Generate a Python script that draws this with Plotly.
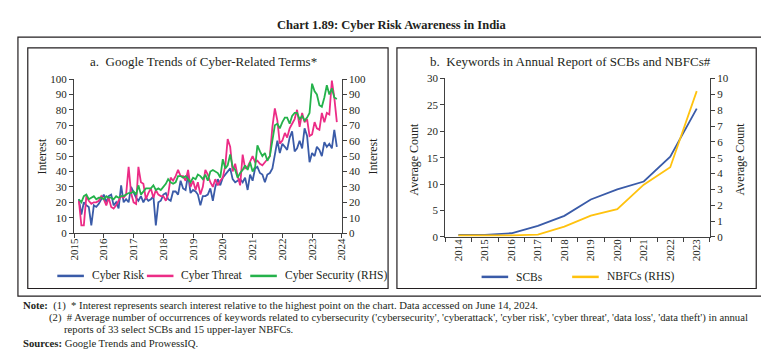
import pandas as pd
import plotly.graph_objects as go

# ---------------- Data ----------------
months = pd.date_range("2015-03-01", "2023-11-01", freq="MS")

cyber_risk = [
    22, 12, 20, 18, 17, 5, 18, 17, 19, 22,
    25, 20, 24, 25, 18, 20, 16, 31, 20, 22, 20, 30,
    26, 23, 21, 24, 20, 23, 21, 22, 24, 5, 20, 21,
    25, 26, 22, 21, 27, 27, 25, 34, 29, 28, 38, 26,
    28, 27, 25, 18, 24, 24, 25, 29, 21, 30, 35, 31,
    36, 38, 40, 42, 35, 33, 34, 35, 33, 36, 28, 38,
    34, 42, 43, 39, 38, 33, 38, 39, 42, 50, 60, 52,
    58, 56, 54, 62, 66, 53, 55, 60, 55, 68, 63, 46,
    52, 50, 56, 54, 50, 59, 56, 58, 55, 67, 56,
]
cyber_threat = [
    21, 5, 5, 24, 21, 19, 20, 20, 21, 24,
    22, 18, 23, 17, 16, 18, 21, 24, 23, 25, 43, 26,
    20, 19, 43, 33, 32, 22, 26, 29, 23, 28, 25, 24,
    24, 21, 25, 36, 34, 37, 41, 37, 37, 34, 41, 30,
    34, 28, 33, 25, 30, 41, 38, 33, 30, 35, 31, 34,
    36, 44, 61, 56, 40, 45, 37, 31, 51, 42, 43, 46,
    50, 46, 47, 45, 44, 46, 48, 50, 69, 81, 73, 58,
    60, 65, 62, 68, 71, 74, 80, 69, 78, 72, 74, 63,
    64, 72, 68, 67, 78, 72, 78, 77, 99, 88, 72,
]
cyber_security = [
    22, 20, 24, 25, 22, 23, 24, 22, 23, 23,
    22, 24, 23, 23, 22, 24, 23, 24, 24, 25, 26, 26,
    27, 25, 31, 25, 27, 29, 29, 29, 31, 28, 29, 28,
    30, 32, 35, 33, 32, 33, 37, 37, 36, 37, 35, 33,
    36, 35, 38, 37, 35, 38, 34, 40, 41, 40, 39, 36,
    48, 42, 44, 51, 43, 41, 36, 39, 41, 44, 41, 46,
    40, 43, 57, 53, 50, 52, 47, 50, 60, 70, 71, 68,
    72, 75, 75, 71, 76, 78, 78, 74, 76, 73, 75, 78,
    97, 92, 90, 83, 82, 88, 96, 90, 94, 88, 87,
]

years_b = ["2014", "2015", "2016", "2017", "2018", "2019", "2020", "2021", "2022", "2023"]
scbs = [0.4, 0.4, 0.7, 2.1, 4.0, 7.1, 9.0, 10.5, 15.2, 24.3]
nbfcs = [0.1, 0.1, 0.1, 0.15, 0.65, 1.35, 1.75, 3.3, 4.4, 9.2]

legend_a = ["Cyber Risk", "Cyber Threat", "Cyber Security (RHS)"]
legend_b = ["SCBs", "NBFCs (RHS)"]

# ---------------- Styling ----------------
W, H = 769, 358
FONT = "Liberation Serif"
TXT = "#231f20"
BLUE = "#3a5ba8"
PINK = "#ec2c86"
GREEN = "#25b24b"
YELLOW = "#ffc20e"


def px(x):
    return x / W


def py(y):
    return 1 - y / H


fig = go.Figure()

fig.add_trace(go.Scatter(x=months, y=cyber_risk, name=legend_a[0], mode="lines",
                         line=dict(color=BLUE, width=1.8), xaxis="x", yaxis="y"))
fig.add_trace(go.Scatter(x=months, y=cyber_threat, name=legend_a[1], mode="lines",
                         line=dict(color=PINK, width=1.8), xaxis="x", yaxis="y"))
fig.add_trace(go.Scatter(x=months, y=cyber_security, name=legend_a[2], mode="lines",
                         line=dict(color=GREEN, width=1.8), xaxis="x", yaxis="y2"))

fig.add_trace(go.Scatter(x=years_b, y=scbs, name=legend_b[0], mode="lines",
                         line=dict(color=BLUE, width=1.8), xaxis="x2", yaxis="y3"))
fig.add_trace(go.Scatter(x=years_b, y=nbfcs, name=legend_b[1], mode="lines",
                         line=dict(color=YELLOW, width=1.8), xaxis="x2", yaxis="y4"))

axis_common = dict(showgrid=False, zeroline=False, showline=True, linecolor="#404040", linewidth=1,
                   ticks="outside", ticklen=4, tickcolor="#404040",
                   tickfont=dict(family=FONT, size=11, color=TXT))

fig.update_layout(
    width=W, height=H,
    margin=dict(l=0, r=0, t=0, b=0),
    paper_bgcolor="white", plot_bgcolor="white",
    font=dict(family=FONT, color=TXT, size=11),
    showlegend=False,
    xaxis=dict(domain=[px(61), px(333)], anchor="y", type="date",
               range=["2015-01-01", "2024-01-01"], dtick="M12", tickformat="%Y",
               tickangle=-90, ticklabelstandoff=-4, **axis_common),
    yaxis=dict(domain=[py(226.7), py(67.3)], anchor="x", range=[0, 100], dtick=10, **axis_common),
    yaxis2=dict(overlaying="y", side="right", anchor="x", range=[0, 100], dtick=10, **axis_common),
    xaxis2=dict(domain=[px(438), px(707)], anchor="y3", type="category",
                range=[-0.5, 9.5], tickson="boundaries", tickangle=-90, ticklabelstandoff=-3,
                **axis_common),
    yaxis3=dict(domain=[py(230.7), py(66.7)], anchor="x2", range=[0, 30], dtick=5, **axis_common),
    yaxis4=dict(overlaying="y3", side="right", anchor="x2", range=[0, 10], dtick=1, **axis_common),
)

# Boxes
box = dict(type="rect", xref="paper", yref="paper", line=dict(color=TXT, width=1.2), fillcolor="rgba(0,0,0,0)")
fig.add_shape(x0=px(4), x1=px(765), y0=py(292), y1=py(24), **box)
fig.add_shape(x0=px(14), x1=px(380), y0=py(284), y1=py(35), **box)
fig.add_shape(x0=px(389), x1=px(754), y0=py(284), y1=py(35), **box)

ann = []
# Manual legends
leg_font = dict(family=FONT, size=11.5, color=TXT)
leg_items = [
    (legend_a[0], BLUE, 44, 271), (legend_a[1], PINK, 135, 271), (legend_a[2], GREEN, 240, 271),
    (legend_b[0], BLUE, 475, 272), (legend_b[1], YELLOW, 567, 272),
]
for name, col, x0, yy in leg_items:
    fig.add_shape(type="line", xref="paper", yref="paper", x0=px(x0), x1=px(x0 + 27),
                  y0=py(yy), y1=py(yy), line=dict(color=col, width=2.5))
    ann.append(dict(text=name, x=px(x0 + 33), y=py(yy), xanchor="left", font=leg_font))

ann.append(dict(text="<b>Chart 1.89: Cyber Risk Awareness in India</b>", x=px(384), y=py(11),
                font=dict(family=FONT, size=12.5, color=TXT)))
ann.append(dict(text="a.  Google Trends of Cyber-Related Terms*", x=px(192), y=py(49),
                font=dict(family=FONT, size=13, color=TXT)))
ann.append(dict(text="b.  Keywords in Annual Report of SCBs and NBFCs#", x=px(565), y=py(49),
                font=dict(family=FONT, size=13, color=TXT)))
title_font = dict(family=FONT, size=12, color=TXT)
ann.append(dict(text="Interest", x=px(29), y=py(147), textangle=-90, font=title_font))
ann.append(dict(text="Interest", x=px(365), y=py(147), textangle=-90, font=title_font))
ann.append(dict(text="Average Count", x=px(406), y=py(150), textangle=-90, font=title_font))
ann.append(dict(text="Average Count", x=px(737), y=py(150), textangle=-90, font=title_font))
note_font = dict(family=FONT, size=10.7, color=TXT)
ann.append(dict(text="<b>Note:</b>  (1)  * Interest represents search interest relative to the highest point on the chart. Data accessed on June 14, 2024.",
                x=px(7), y=py(302), xanchor="left", font=note_font))
ann.append(dict(text="(2)  # Average number of occurrences of keywords related to cybersecurity ('cybersecurity', 'cyberattack', 'cyber risk', 'cyber threat', 'data loss', 'data theft') in annual",
                x=px(34), y=py(314), xanchor="left", font=note_font))
ann.append(dict(text="reports of 33 select SCBs and 15 upper-layer NBFCs.",
                x=px(49), y=py(326), xanchor="left", font=note_font))
ann.append(dict(text="<b>Sources:</b> Google Trends and ProwessIQ.",
                x=px(7), y=py(340), xanchor="left", font=note_font))
for a in ann:
    a.update(xref="paper", yref="paper", showarrow=False, yanchor="middle")
    a.setdefault("xanchor", "center")
    fig.add_annotation(**a)

fig.write_html("out.html")
